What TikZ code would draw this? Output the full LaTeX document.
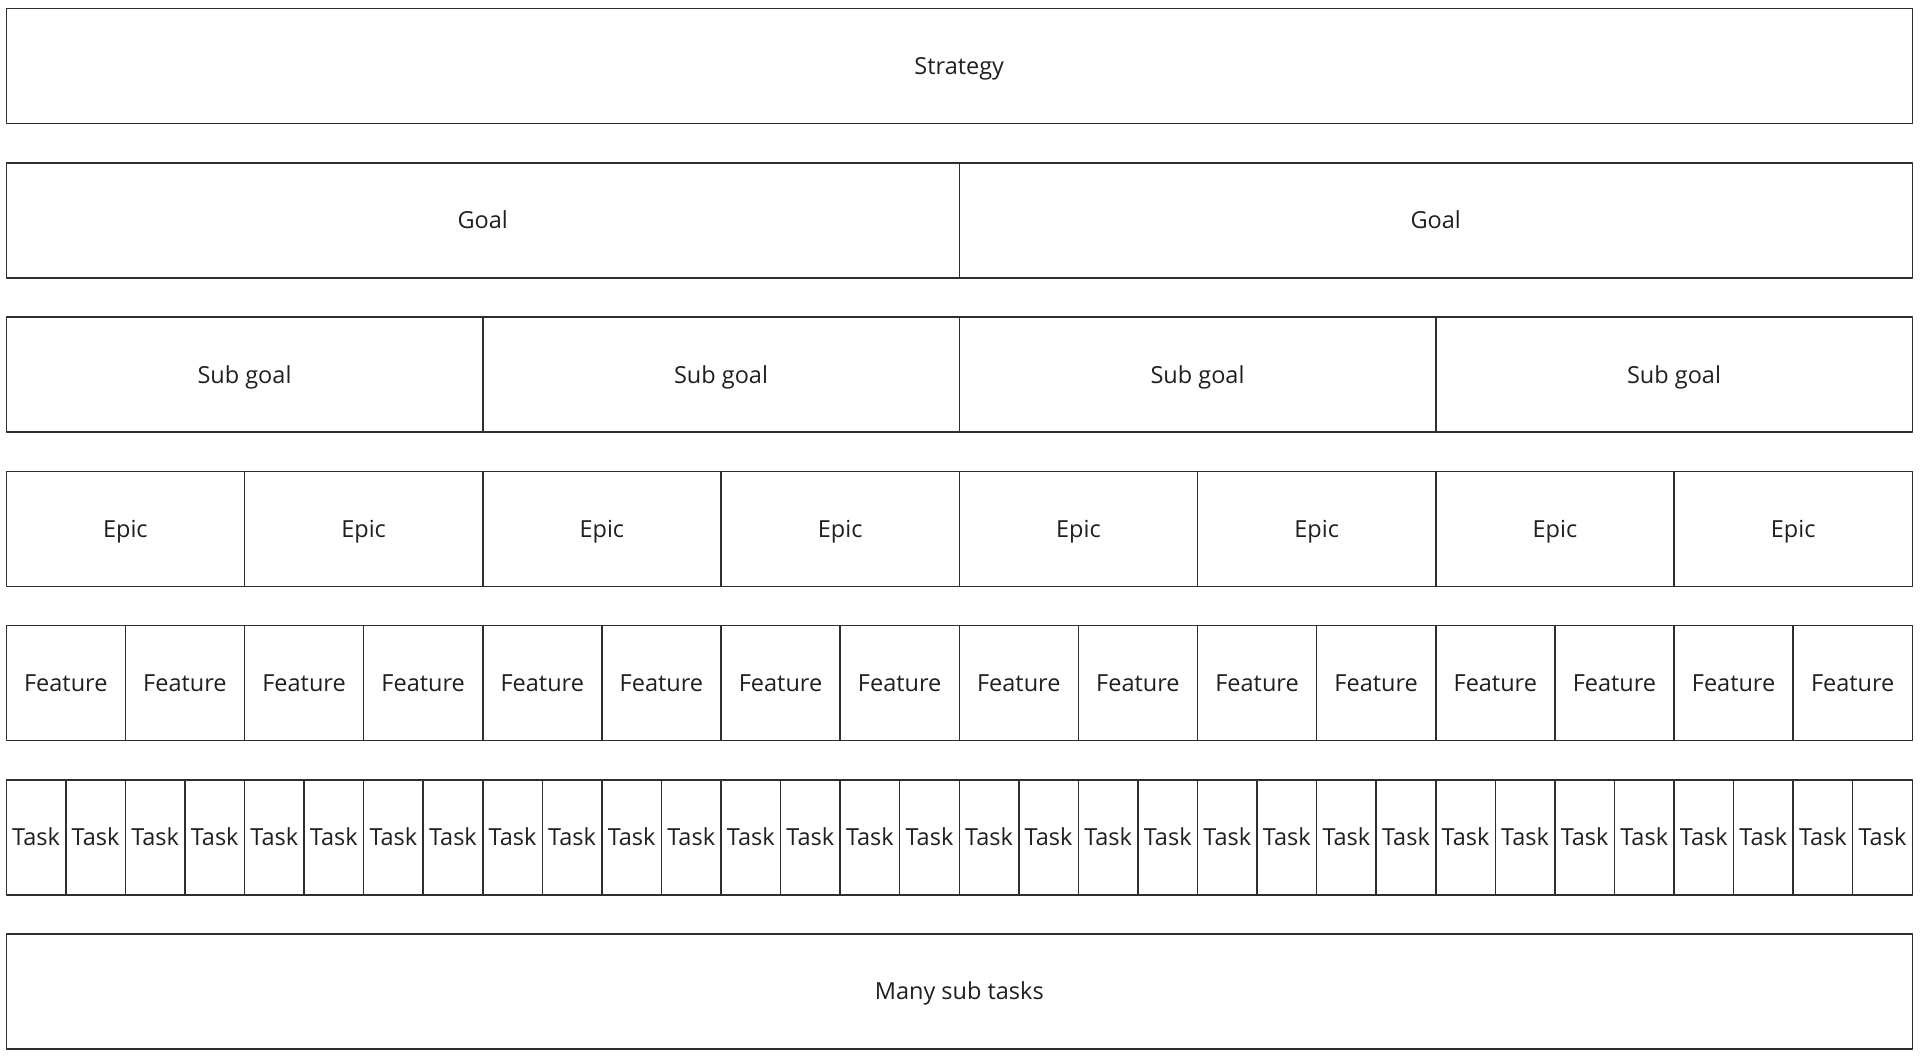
\documentclass[tikz,border=0pt]{standalone}
\usepackage{fontspec}
\setmainfont{Open Sans}
\begin{document}
\begin{tikzpicture}[x=1pt, y=-1pt, line join = round,
		box/.style={draw=black!82, line width=1.5pt, inner sep=0pt, anchor=north west, text=black!88, font=\fontsize{23.5}{28}\selectfont, text height=17pt, text depth=0pt, minimum height=115pt}]
				\useasboundingbox (0,0) rectangle (1920,1062);
				\def\w{1906}
				\def\p{154.2}
				\node[box, minimum width=\w pt] (strategy) at (5.5,8) {Strategy};
				\foreach \k/\txt/\name [count=\r] in {2/Goal/goal,4/Sub goal/subgoal,8/Epic/epic,16/Feature/feature,32/Task/task}{
					\pgfmathsetmacro\bw{\w/\k}
					\foreach \i in {1,...,\k}{
						\node[box, minimum width=\bw pt] (\name\i) at ({5.5+(\i-1)*\bw},{8+\r*\p}) {\txt};
					}
				}
				\node[box, minimum width=\w pt] (subtasks) at (5.5,{8+6*\p}) {Many sub tasks};
			\end{tikzpicture}
\end{document}
